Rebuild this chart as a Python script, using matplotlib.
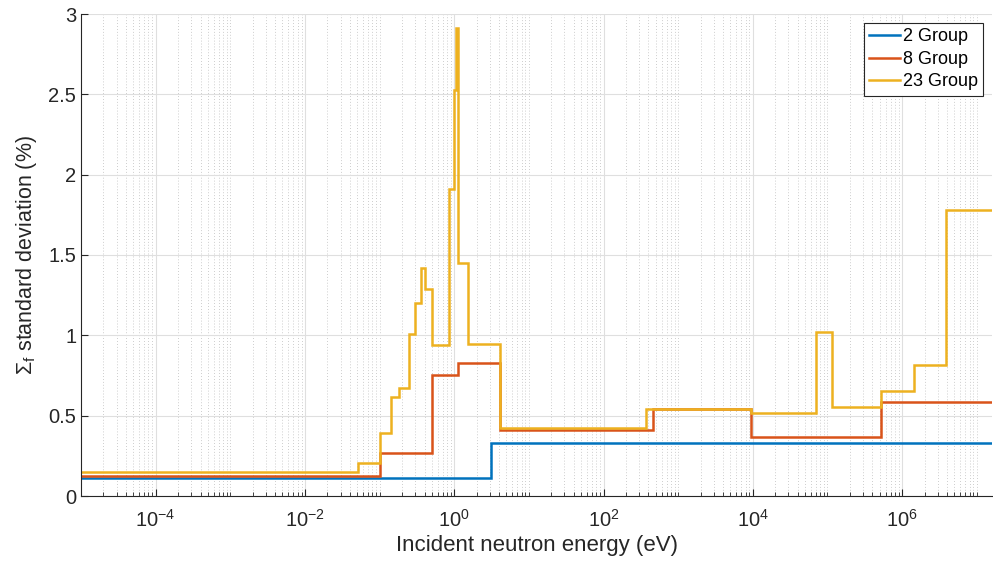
import matplotlib
matplotlib.use("Agg")
import matplotlib.pyplot as plt
from matplotlib.ticker import FixedLocator, FuncFormatter
import numpy as np

plt.rcParams['font.family'] = ['Liberation Sans', 'DejaVu Sans']
plt.rcParams['mathtext.fontset'] = 'custom'
plt.rcParams['mathtext.rm'] = 'Liberation Sans'
plt.rcParams['mathtext.it'] = 'Liberation Sans:italic'
plt.rcParams['mathtext.default'] = 'regular'

# group boundaries (eV) and standard deviations (%)
e_min, e_max = 1e-5, 1.6e7

edges_2g = [e_min, 3.1, e_max]
sd_2g = [0.110, 0.328]

edges_8g = [e_min, 0.1, 0.507, 1.12, 4.06, 457, 9.6e3, 5.2e5, e_max]
sd_8g = [0.122, 0.270, 0.753, 0.826, 0.413, 0.541, 0.369, 0.583]

edges_23g = [e_min, 0.051, 0.1, 0.141, 0.183, 0.251, 0.30, 0.357, 0.40,
             0.507, 0.857, 0.98, 1.05, 1.12, 1.51, 4.06, 372, 9.6e3,
             7.0e4, 1.15e5, 5.2e5, 1.44e6, 3.9e6, e_max]
sd_23g = [0.151, 0.207, 0.392, 0.614, 0.674, 1.010, 1.203, 1.417, 1.286,
          0.942, 1.908, 2.530, 2.910, 1.452, 0.944, 0.425, 0.539, 0.514,
          1.018, 0.556, 0.655, 0.815, 1.780]

labels = ["2 Group", "8 Group", "23 Group"]
colors = ["#0072BD", "#D95319", "#EDB120"]

txt = "#262626"

fig = plt.figure(figsize=(9.93, 5.65), dpi=100)
ax = fig.add_axes([81 / 993, 69 / 565, 911 / 993, 482 / 565])

ax.stairs(sd_2g, edges_2g, color=colors[0], lw=1.8, label=labels[0], baseline=None)
ax.stairs(sd_8g, edges_8g, color=colors[1], lw=1.8, label=labels[1], baseline=None)
ax.stairs(sd_23g, edges_23g, color=colors[2], lw=1.8, label=labels[2], baseline=None)

ax.set_xscale("log")
ax.set_xlim(e_min, e_max)
ax.set_ylim(0, 3)

major = [10.0 ** k for k in range(-4, 8, 2)]
minor = []
for k in range(-5, 8):
    for m in range(1, 10):
        v = m * 10.0 ** k
        if v not in major and e_min <= v <= e_max:
            minor.append(v)
ax.xaxis.set_major_locator(FixedLocator(major))
ax.xaxis.set_minor_locator(FixedLocator(minor))
ax.xaxis.set_major_formatter(
    FuncFormatter(lambda v, p: "$10^{%d}$" % int(round(np.log10(v)))))
ax.xaxis.set_minor_formatter(FuncFormatter(lambda v, p: ""))

ax.set_yticks([0, 0.5, 1, 1.5, 2, 2.5, 3])
ax.yaxis.set_major_formatter(FuncFormatter(lambda v, p: "%g" % v))

ax.grid(True, which="major", color="#dfdfdf", lw=0.8, ls="-")
ax.grid(True, which="minor", axis="x", color="#bdbdbd", lw=0.6, ls=(0, (1, 2.5)))
ax.set_axisbelow(True)

for s in ["top", "right"]:
    ax.spines[s].set_visible(False)
for s in ["left", "bottom"]:
    ax.spines[s].set_color(txt)
    ax.spines[s].set_linewidth(0.8)

ax.tick_params(which="both", direction="in", colors=txt, labelsize=14.5)
ax.tick_params(which="major", length=5, width=0.8)
ax.tick_params(which="minor", length=3, width=0.6)
ax.tick_params(axis="x", pad=9)

ax.set_xlabel("Incident neutron energy (eV)", fontsize=16, color=txt, labelpad=3)
ax.set_ylabel(r"$\Sigma_f$ standard deviation (%)", fontsize=15.5, color=txt, labelpad=7)

leg = ax.legend(loc="upper right", fontsize=13, fancybox=False, framealpha=1,
                edgecolor=txt, handlelength=1.7, handletextpad=0.15,
                labelspacing=0.3, borderpad=0.3, borderaxespad=0.5)
leg.get_frame().set_linewidth(0.8)

fig.savefig("out.png", dpi=100)
